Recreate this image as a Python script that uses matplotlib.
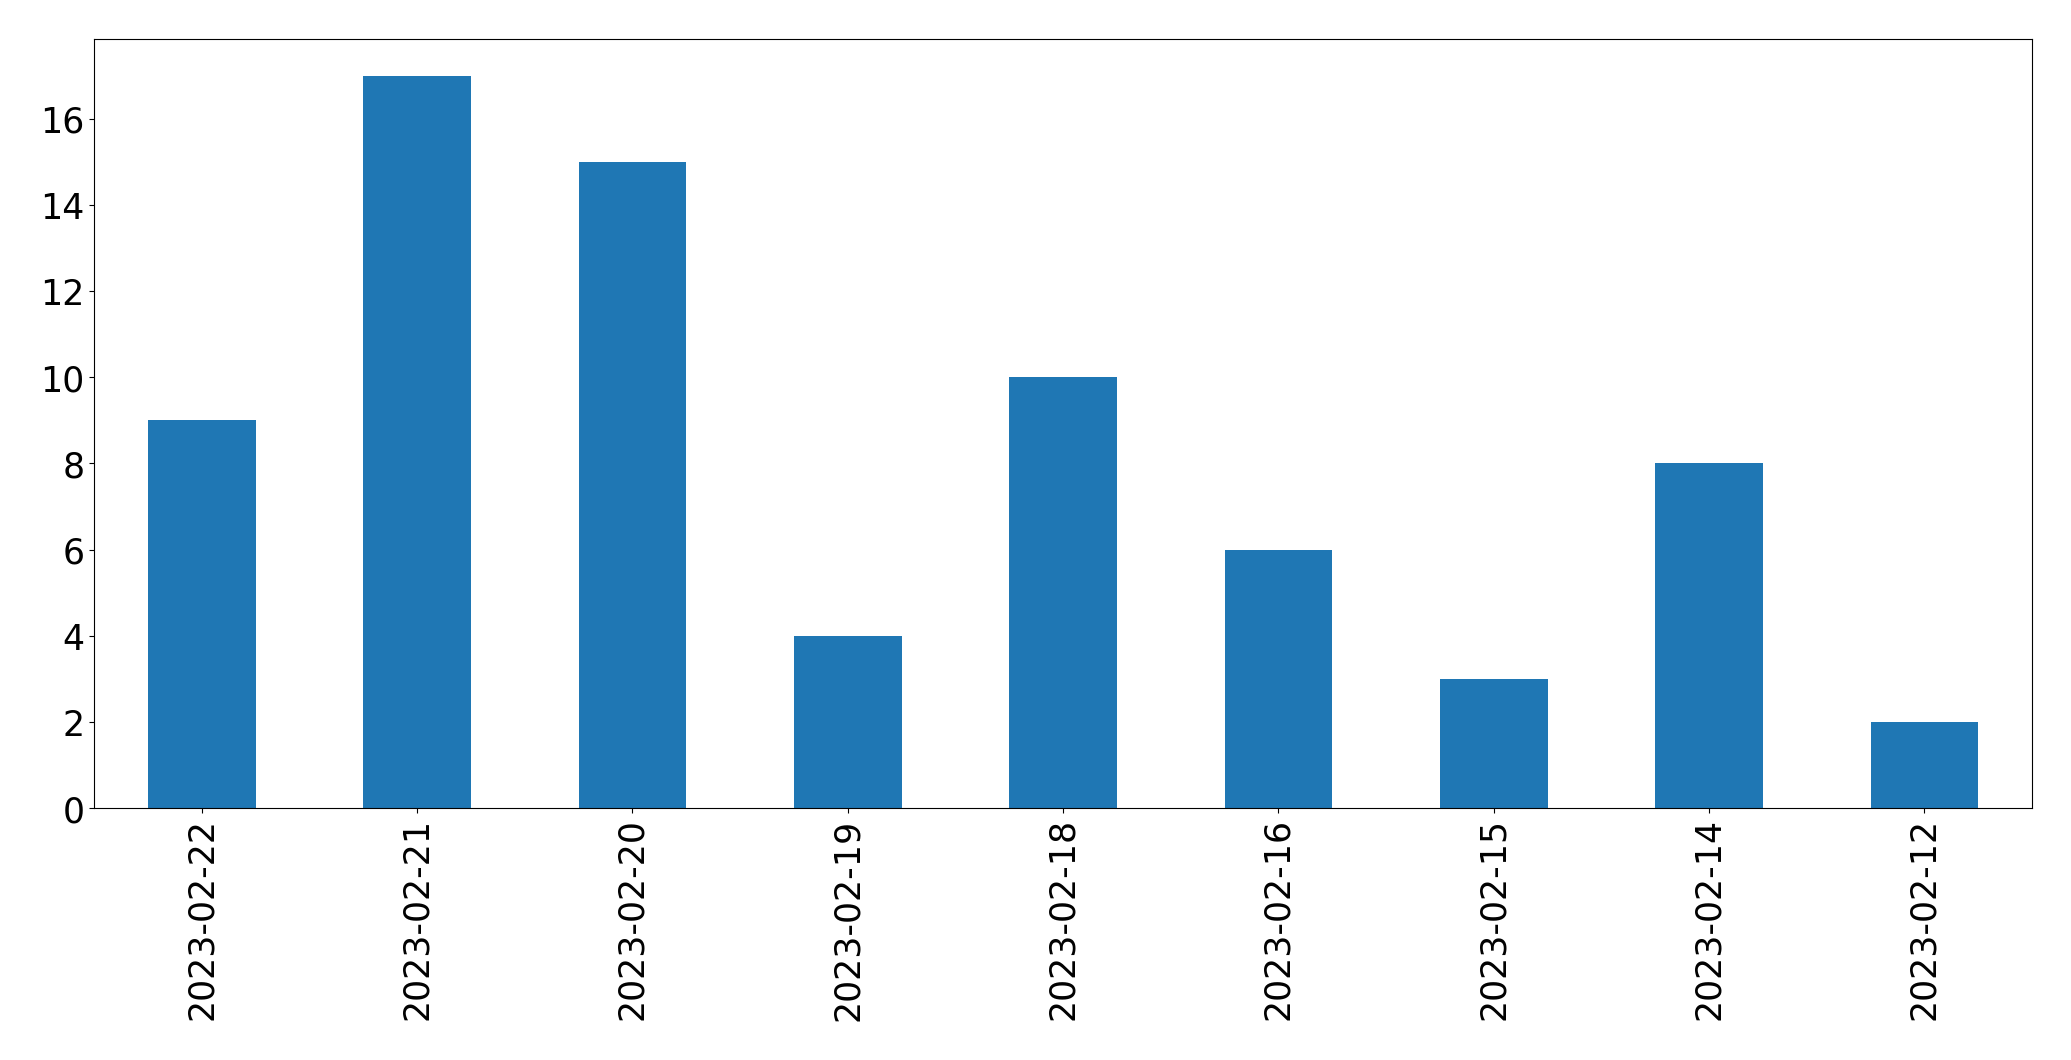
import matplotlib
matplotlib.use("Agg")
import matplotlib.pyplot as plt

dates = ["2023-02-22", "2023-02-21", "2023-02-20", "2023-02-19", "2023-02-18",
         "2023-02-16", "2023-02-15", "2023-02-14", "2023-02-12"]
counts = [9, 17, 15, 4, 10, 6, 3, 8, 2]

fig, ax = plt.subplots(figsize=(20.71, 10.605), dpi=100)
fig.subplots_adjust(left=0.0454, right=0.9812, top=0.9628, bottom=0.2375)

x = range(len(dates))
ax.bar(x, counts, width=0.5, color="#1f77b4")
ax.set_xlim(-0.5, len(dates) - 0.5)
ax.set_xticks(list(x))
ax.set_xticklabels(dates, rotation=90)
ax.tick_params(labelsize=25)

fig.savefig("out.png", dpi=100)
